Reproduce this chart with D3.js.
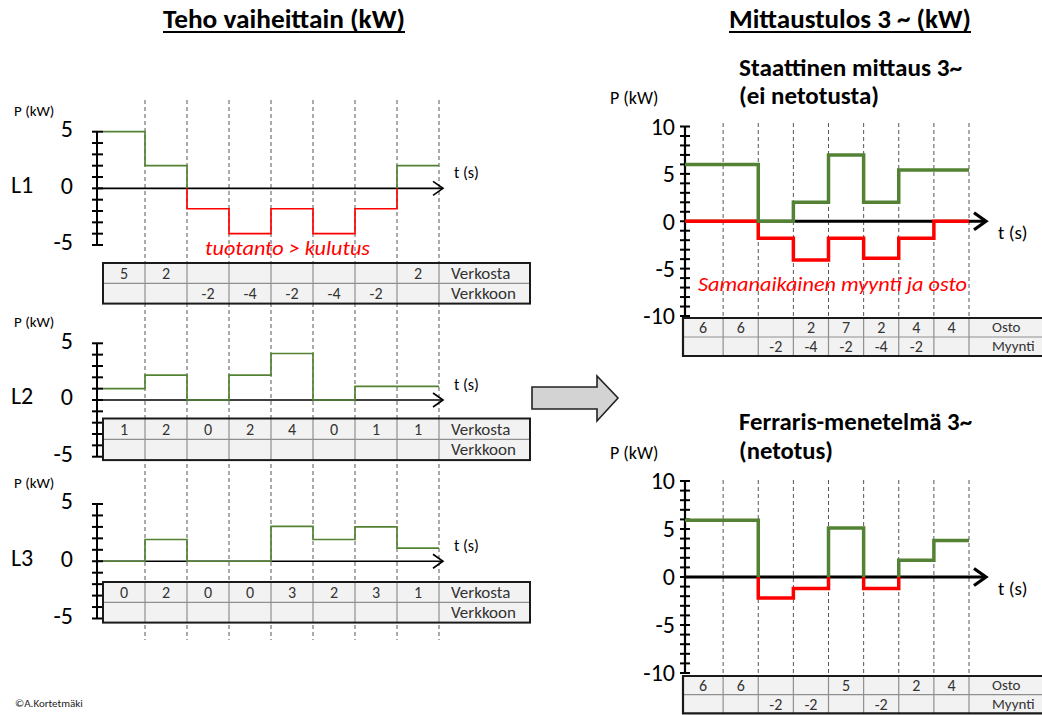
<!DOCTYPE html>
<html><head><meta charset="utf-8">
<script src="https://cdn.jsdelivr.net/npm/d3@7"></script>
<style>body{margin:0;background:#fff}svg{display:block}</style>
</head><body>
<svg id="chart" width="1042" height="715"></svg>
<script>
// ---------------- data ----------------
const stepCount = 8;
const phaseNames = ["L1", "L2", "L3"];
const L1Power = [5, 2, -1.8, -4, -1.8, -4, -1.8, 2];
const L2Power = [1, 2.2, 0, 2.2, 4.1, 0, 1.2, 1.2];
const L3Power = [0, 1.9, 0, 0, 3.05, 1.9, 3, 1.15];
const L1Verkosta = ["5", "2", "", "", "", "", "", "2"];
const L1Verkkoon = ["", "", "-2", "-4", "-2", "-4", "-2", ""];
const L2Verkosta = ["1", "2", "0", "2", "4", "0", "1", "1"];
const L2Verkkoon = ["", "", "", "", "", "", "", ""];
const L3Verkosta = ["0", "2", "0", "0", "3", "2", "3", "1"];
const L3Verkkoon = ["", "", "", "", "", "", "", ""];
const staticOsto = [6, 6, 0, 2, 7, 2, 5.4, 5.4];
const staticMyynti = [0, 0, -1.8, -4.1, -1.8, -3.9, -1.8, 0];
const staticOstoLabels = ["6", "6", "", "2", "7", "2", "4", "4"];
const staticMyyntiLabels = ["", "", "-2", "-4", "-2", "-4", "-2", ""];
const ferrarisNet = [5.9, 5.9, -2.2, -1.2, 5.1, -1.2, 1.75, 3.8];
const ferrarisOstoLabels = ["6", "6", "", "", "5", "", "2", "4"];
const ferrarisMyyntiLabels = ["", "", "-2", "-2", "", "-2", "", ""];
const leftTickLabels = [-5, 0, 5];
const rightTickLabels = [-10, -5, 0, 5, 10];
const leftRowNames = ["Verkosta", "Verkkoon"];
const rightRowNames = ["Osto", "Myynti"];

// ---------------- style ----------------
const FONT = "Carlito, Lato, 'Open Sans', sans-serif";
const GREEN = "#548235", RED = "#ff0000";
const svg = d3.select("#chart");

// ---------------- helpers ----------------
function runs(values, x, y, xStart, colorOf) {
  const out = [];
  let cur = {c: colorOf(values[0]), pts: [[xStart, y(values[0])]]};
  values.forEach((v, i) => {
    const xe = x(i + 1);
    cur.pts.push([xe, y(v)]);
    if (i < values.length - 1) {
      const n = values[i + 1];
      if (colorOf(n) === cur.c) cur.pts.push([xe, y(n)]);
      else {
        cur.pts.push([xe, y(0)]);
        out.push(cur);
        cur = {c: colorOf(n), pts: [[xe, y(0)], [xe, y(n)]]};
      }
    }
  });
  out.push(cur);
  return out;
}
const signColor = v => v >= 0 ? GREEN : RED;
const lineGen = d3.line();

function drawRuns(g, rs, width) {
  g.selectAll(null).data(rs).join("path")
    .attr("d", d => lineGen(d.pts)).attr("fill", "none")
    .attr("stroke", d => d.c).attr("stroke-width", width)
    .attr("stroke-linejoin", "miter").attr("stroke-linecap", "butt");
}

function drawTable(g, x, left, right, top, rowH, rows, names, nameX, fs, nameFs, rightOpen) {
  const bottom = top + rowH * 2;
  g.append("rect").attr("x", left).attr("y", top).attr("width", right - left).attr("height", rowH * 2)
    .attr("fill", "#f2f2f2");
  d3.range(1, stepCount + 1).forEach(i => {
    g.append("line").attr("x1", x(i)).attr("x2", x(i)).attr("y1", top).attr("y2", bottom)
      .attr("stroke", "#8f8f8f").attr("stroke-width", 1.2);
  });
  g.append("line").attr("x1", left).attr("x2", right).attr("y1", top + rowH).attr("y2", top + rowH)
    .attr("stroke", "#8f8f8f").attr("stroke-width", 1.2);
  if (rightOpen) {
    g.append("path").attr("d", `M${right},${top}H${left}V${bottom}H${right}`)
      .attr("fill", "none").attr("stroke", "#1a1a1a").attr("stroke-width", 2.2);
  } else {
    g.append("rect").attr("x", left).attr("y", top).attr("width", right - left).attr("height", rowH * 2)
      .attr("fill", "none").attr("stroke", "#1a1a1a").attr("stroke-width", 2);
  }
  rows.forEach((row, r) => {
    const cy = top + rowH * (r + 0.5);
    row.forEach((t, i) => {
      if (!t) return;
      const cx = (i === 0 ? (left + x(1)) / 2 : (x(i) + x(i + 1)) / 2);
      g.append("text").attr("x", cx).attr("y", cy).attr("dy", "0.35em").attr("text-anchor", "middle")
        .attr("font-family", FONT).attr("font-size", fs).attr("fill", "#333").text(t);
    });
    g.append("text").attr("x", nameX).attr("y", cy).attr("dy", "0.33em")
      .attr("font-family", FONT).attr("font-size", nameFs).attr("fill", "#333").text(names[r]);
  });
}

// ---------------- titles ----------------
function title(text, x, y, len) {
  svg.append("text").attr("x", x).attr("y", y).attr("font-family", FONT).attr("font-weight", "bold")
    .attr("font-size", 25.5).attr("textLength", len).attr("lengthAdjust", "spacingAndGlyphs").text(text);
  svg.append("line").attr("x1", x).attr("x2", x + len).attr("y1", y + 4).attr("y2", y + 4)
    .attr("stroke", "#000").attr("stroke-width", 2);
}
title("Teho vaiheittain (kW)", 163, 28, 242);
title("Mittaustulos 3 ~ (kW)", 729, 28, 242);

// ---------------- left panels ----------------
const xLeft = d3.scaleLinear().domain([0, stepCount]).range([103, 439]);
const leftAxisX = 97;
const leftTableRight = 530;
const leftPanels = [
  {name: phaseNames[0], power: L1Power, rows: [L1Verkosta, L1Verkkoon], yRange: [245, 131.7], tableTop: 263, rowH: 20.3},
  {name: phaseNames[1], power: L2Power, rows: [L2Verkosta, L2Verkkoon], yRange: [456.7, 343.3], tableTop: 418.5, rowH: 20.8},
  {name: phaseNames[2], power: L3Power, rows: [L3Verkosta, L3Verkkoon], yRange: [618.5, 504], tableTop: 582, rowH: 20.3}
];

const gLeftGrid = svg.append("g");
d3.range(1, stepCount + 1).forEach(i => {
  gLeftGrid.append("line").attr("x1", xLeft(i)).attr("x2", xLeft(i)).attr("y1", 100).attr("y2", 640)
    .attr("stroke", "#444").attr("stroke-width", 0.9).attr("stroke-dasharray", "4,3");
});

leftPanels.forEach(p => {
  const y = d3.scaleLinear().domain([-5, 5]).range(p.yRange);
  const g = svg.append("g");
  g.append("line").attr("x1", leftAxisX).attr("x2", leftAxisX).attr("y1", y(5)).attr("y2", y(-5))
    .attr("stroke", "#000").attr("stroke-width", 2);
  g.selectAll(null).data(y.ticks(10)).join("line")
    .attr("x1", leftAxisX - 5).attr("x2", leftAxisX + 6).attr("y1", d => y(d)).attr("y2", d => y(d))
    .attr("stroke", "#000").attr("stroke-width", 2);
  g.selectAll(null).data(leftTickLabels).join("text")
    .attr("x", 73).attr("y", d => y(d) - 3).attr("dy", "0.35em").attr("text-anchor", "end")
    .attr("font-family", FONT).attr("font-size", 24).text(d => d);
  g.append("text").attr("x", 11).attr("y", y(0) - 4).attr("dy", "0.35em")
    .attr("font-family", FONT).attr("font-size", 24).text(p.name);
  g.append("text").attr("x", 14).attr("y", y(5) - 16).attr("font-family", FONT).attr("font-size", 15)
    .text("P (kW)");
  g.append("line").attr("x1", leftAxisX).attr("x2", 443).attr("y1", y(0)).attr("y2", y(0))
    .attr("stroke", "#000").attr("stroke-width", 1.6);
  g.append("path").attr("d", `M433,${y(0) - 7}L443,${y(0)}L433,${y(0) + 7}`)
    .attr("fill", "none").attr("stroke", "#000").attr("stroke-width", 1.6);
  g.append("text").attr("x", 454).attr("y", y(0) - 10).attr("font-family", FONT).attr("font-size", 16)
    .text("t (s)");
  drawTable(g, xLeft, xLeft(0), leftTableRight, p.tableTop, p.rowH, p.rows, leftRowNames, 451, 16, 17, false);
  drawRuns(g, runs(p.power, xLeft, y, xLeft(0), signColor), 1.7);
});

svg.append("text").attr("x", 205).attr("y", 255).attr("font-family", FONT).attr("font-style", "italic")
  .attr("font-size", 21).attr("fill", RED).attr("textLength", 165).attr("lengthAdjust", "spacingAndGlyphs")
  .text("tuotanto > kulutus");

// ---------------- block arrow ----------------
svg.append("path").attr("d", "M532,387H597V376L618,398L597,421V409H532Z")
  .attr("fill", "#d3d3d3").attr("stroke", "#222").attr("stroke-width", 1.6).attr("stroke-linejoin", "miter");

// ---------------- right panels ----------------
const xRight = d3.scaleLinear().domain([0, stepCount]).range([688, 969]);
const rightAxisX = 685;
const rightPanels = [
  {t1: "Staattinen mittaus 3~", t2: "(ei netotusta)", t1y: 76, t2y: 104, len1: 223, len2: 140,
   yRange: [316, 126.5], gridTop: 123, tableTop: 318, rowH: 19,
   rows: [staticOstoLabels, staticMyyntiLabels], kind: "static"},
  {t1: "Ferraris-menetelmä 3~", t2: "(netotus)", t1y: 430, t2y: 459, len1: 233, len2: 94,
   yRange: [673, 481], gridTop: 480, tableTop: 676, rowH: 18.7,
   rows: [ferrarisOstoLabels, ferrarisMyyntiLabels], kind: "net"}
];

rightPanels.forEach(p => {
  const y = d3.scaleLinear().domain([-10, 10]).range(p.yRange);
  const g = svg.append("g");
  g.append("text").attr("x", 739).attr("y", p.t1y).attr("font-family", FONT).attr("font-weight", "bold")
    .attr("font-size", 24).attr("textLength", p.len1).attr("lengthAdjust", "spacingAndGlyphs").text(p.t1);
  g.append("text").attr("x", 739).attr("y", p.t2y).attr("font-family", FONT).attr("font-weight", "bold")
    .attr("font-size", 24).attr("textLength", p.len2).attr("lengthAdjust", "spacingAndGlyphs").text(p.t2);
  g.append("text").attr("x", 610).attr("y", p.t2y).attr("font-family", FONT).attr("font-size", 18)
    .text("P (kW)");
  d3.range(1, stepCount + 1).forEach(i => {
    g.append("line").attr("x1", xRight(i)).attr("x2", xRight(i)).attr("y1", p.gridTop).attr("y2", p.tableTop)
      .attr("stroke", "#444").attr("stroke-width", 0.9).attr("stroke-dasharray", "4,3");
  });
  g.append("line").attr("x1", rightAxisX).attr("x2", rightAxisX).attr("y1", y(10)).attr("y2", y(-10))
    .attr("stroke", "#000").attr("stroke-width", 2.2);
  g.selectAll(null).data(y.ticks(20)).join("line")
    .attr("x1", rightAxisX - 5).attr("x2", rightAxisX + 5).attr("y1", d => y(d)).attr("y2", d => y(d))
    .attr("stroke", "#000").attr("stroke-width", 2);
  g.selectAll(null).data(rightTickLabels).join("text")
    .attr("x", 675).attr("y", d => y(d)).attr("dy", "0.35em").attr("text-anchor", "end")
    .attr("font-family", FONT).attr("font-size", 24).text(d => d);
  g.append("line").attr("x1", rightAxisX).attr("x2", 985).attr("y1", y(0)).attr("y2", y(0))
    .attr("stroke", "#000").attr("stroke-width", 3.2);
  g.append("path").attr("d", `M974,${y(0) - 8.5}L986,${y(0)}L974,${y(0) + 8.5}`)
    .attr("fill", "none").attr("stroke", "#000").attr("stroke-width", 3.2);
  g.append("text").attr("x", 998).attr("y", y(0) + 18).attr("font-family", FONT).attr("font-size", 19)
    .text("t (s)");
  drawTable(g, xRight, 683, 1060, p.tableTop, p.rowH, p.rows, rightRowNames, 992, 16, 15, true);
  if (p.kind === "static") {
    drawRuns(g, runs(staticMyynti, xRight, y, rightAxisX, () => RED), 3.5);
    drawRuns(g, runs(staticOsto, xRight, y, rightAxisX, () => GREEN), 3.5);
    g.append("text").attr("x", 698).attr("y", 291).attr("font-family", FONT).attr("font-style", "italic")
      .attr("font-size", 20).attr("fill", RED).attr("textLength", 269).attr("lengthAdjust", "spacingAndGlyphs")
      .text("Samanaikainen myynti ja osto");
  } else {
    drawRuns(g, runs(ferrarisNet, xRight, y, rightAxisX, signColor), 3.5);
  }
});

svg.append("text").attr("x", 15).attr("y", 703).attr("dy", "0.35em").attr("font-family", FONT)
  .attr("font-size", 11).attr("fill", "#222").text("©A.Kortetmäki");
</script>
</body></html>
